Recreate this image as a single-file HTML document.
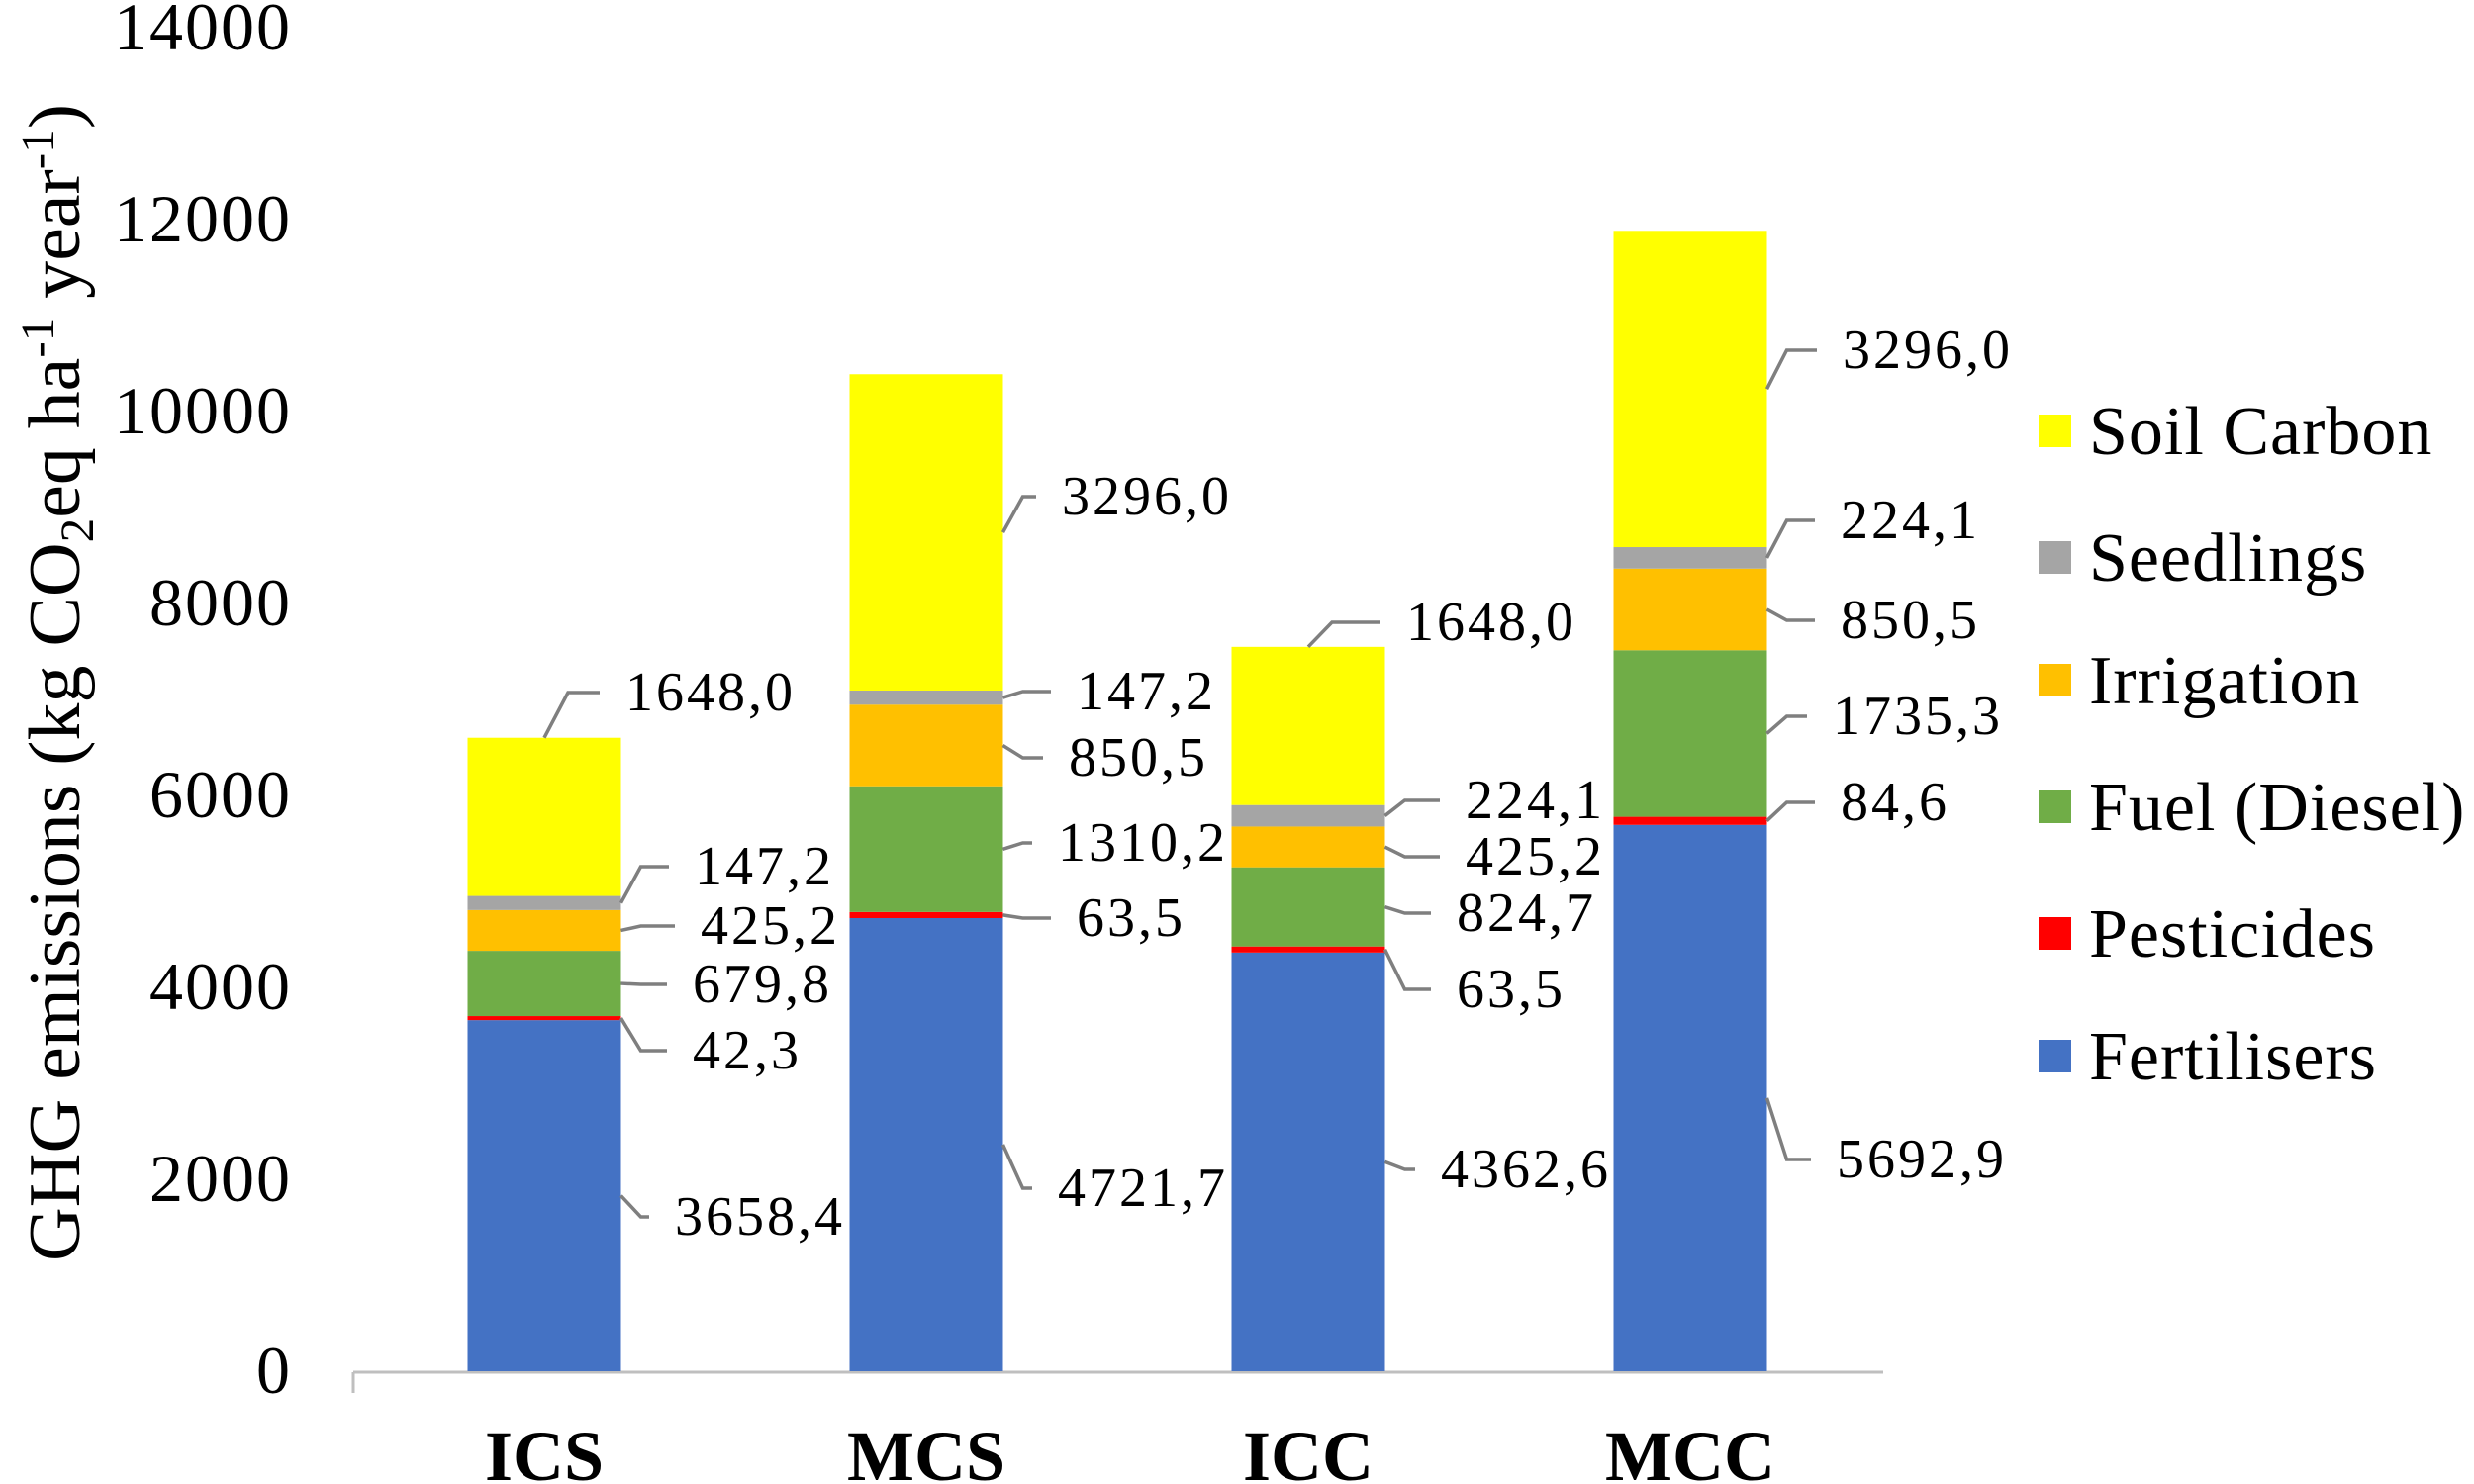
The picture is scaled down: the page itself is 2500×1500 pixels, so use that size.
<!DOCTYPE html>
<html><head><meta charset="utf-8"><style>
html,body{margin:0;padding:0;background:#fff;}
svg{display:block;font-family:"Liberation Serif",serif;}
</style></head><body>
<svg id="chart" width="2500" height="1500" viewBox="0 0 2500 1500">
<g id="plot"></g>
<text transform="translate(80,690) rotate(-90)" text-anchor="middle" font-size="74" textLength="1170" lengthAdjust="spacingAndGlyphs">GHG emissions (kg CO<tspan font-size="48" dy="14">2</tspan><tspan dy="-14">eq ha</tspan><tspan font-size="48" dy="-26">-1</tspan><tspan dy="26"> year</tspan><tspan font-size="48" dy="-26">-1</tspan><tspan dy="26">)</tspan></text>
</svg>
<script>
const categories = ["ICS","MCS","ICC","MCC"];
const seriesNames = ["Fertilisers","Pesticides","Fuel (Diesel)","Irrigation","Seedlings","Soil Carbon"];
const fertilisers = [3658.4, 4721.7, 4362.6, 5692.9];
const pesticides = [42.3, 63.5, 63.5, 84.6];
const fuel = [679.8, 1310.2, 824.7, 1735.3];
const irrigation = [425.2, 850.5, 425.2, 850.5];
const seedlings = [147.2, 147.2, 224.1, 224.1];
const soilCarbon = [1648.0, 3296.0, 1648.0, 3296.0];
const yTicks = [0,2000,4000,6000,8000,10000,12000,14000];

const series = [fertilisers, pesticides, fuel, irrigation, seedlings, soilCarbon];
const colors = ["#4472C4","#FF0000","#70AD47","#FFC000","#A5A5A5","#FFFF00"];
const slugs = ["fertilisers","pesticides","fuel","irrigation","seedlings","soil-carbon"];
const NS = "http://www.w3.org/2000/svg";
const plot = document.getElementById('plot');
const Y0 = 1386, YMAX = 28, VMAX = 14000;
function y(v){ return Y0 - (v / VMAX) * (Y0 - YMAX); }
const X0 = 550, XSTEP = 386, BW = 155;
function xc(i){ return X0 + i * XSTEP; }
function mk(tag, attrs, parent){ const e=document.createElementNS(NS,tag); for(const k in attrs) e.setAttribute(k,attrs[k]); (parent||plot).appendChild(e); return e; }

yTicks.forEach(function(t){
  const tx = mk('text',{x:295,y:y(t)+22,'text-anchor':'end','font-size':68,'letter-spacing':2,fill:'#000'});
  
  
  tx.textContent = String(t);
});
const ax = mk('path',{d:'M357 1387 H1903 M357 1387 V1408',stroke:'#BFBFBF','stroke-width':3,fill:'none'});



const labelLayout = [
  [[682,1248],[700,1080],[700,1013],[708,954],[702,894],[632,718]],
  [[1069,1219],[1088,946],[1069,870],[1080,784],[1088,717],[1073,520]],
  [[1456,1200],[1472,1018],[1472,941],[1481,884],[1481,827],[1421,647]],
  [[1856,1190],[1860,829],[1852,742],[1860,645],[1860,544],[1862,372]]
];

categories.forEach(function(cat, i){
  let cum = 0;
  const left = xc(i) - BW/2, right = xc(i) + BW/2;
  series.forEach(function(s, k){
    const v = s[i];
    const top = y(cum + v), bot = y(cum);
    const r = mk('rect',{x:left,y:top,width:BW,height:Math.max(bot-top,1),fill:colors[k]});
    
    
    const mid = (top+bot)/2;
    const L = labelLayout[i][k];
    const ly = L[1]-18;
    let d;
    if (k === series.length-1 && i % 2 === 0) {
      d = 'M'+(xc(i))+' '+top+' L'+(xc(i)+24)+' '+ly+' H'+(L[0]-26);
    } else {
      d = 'M'+right+' '+mid+' L'+(right+20)+' '+ly+' H'+(L[0]-26);
    }
    const ln = mk('path',{d:d,stroke:'#7F7F7F','stroke-width':3.5,fill:'none'});
    
    
    const t = mk('text',{x:L[0],y:L[1],'font-size':56,'letter-spacing':3,fill:'#000'});
    
    
    t.textContent = v.toFixed(1).replace('.',',');
    cum += v;
  });
  const xl = mk('text',{x:xc(i),y:1496,'text-anchor':'middle','font-size':72,'font-weight':'bold',fill:'#000'});
  
  
  xl.textContent = cat;
});

const legendY = [435,563,687,815,943,1067];
for (let j=0;j<seriesNames.length;j++){
  const k = seriesNames.length-1-j;
  const g = mk('g',{});
  
  
  mk('rect',{x:2060,y:legendY[j]-16,width:33,height:33,fill:colors[k]},g);
  const t = mk('text',{x:2111,y:legendY[j]+24,'font-size':70,'letter-spacing':1,fill:'#000'},g);
  t.textContent = seriesNames[k];
}
</script>
</body></html>
